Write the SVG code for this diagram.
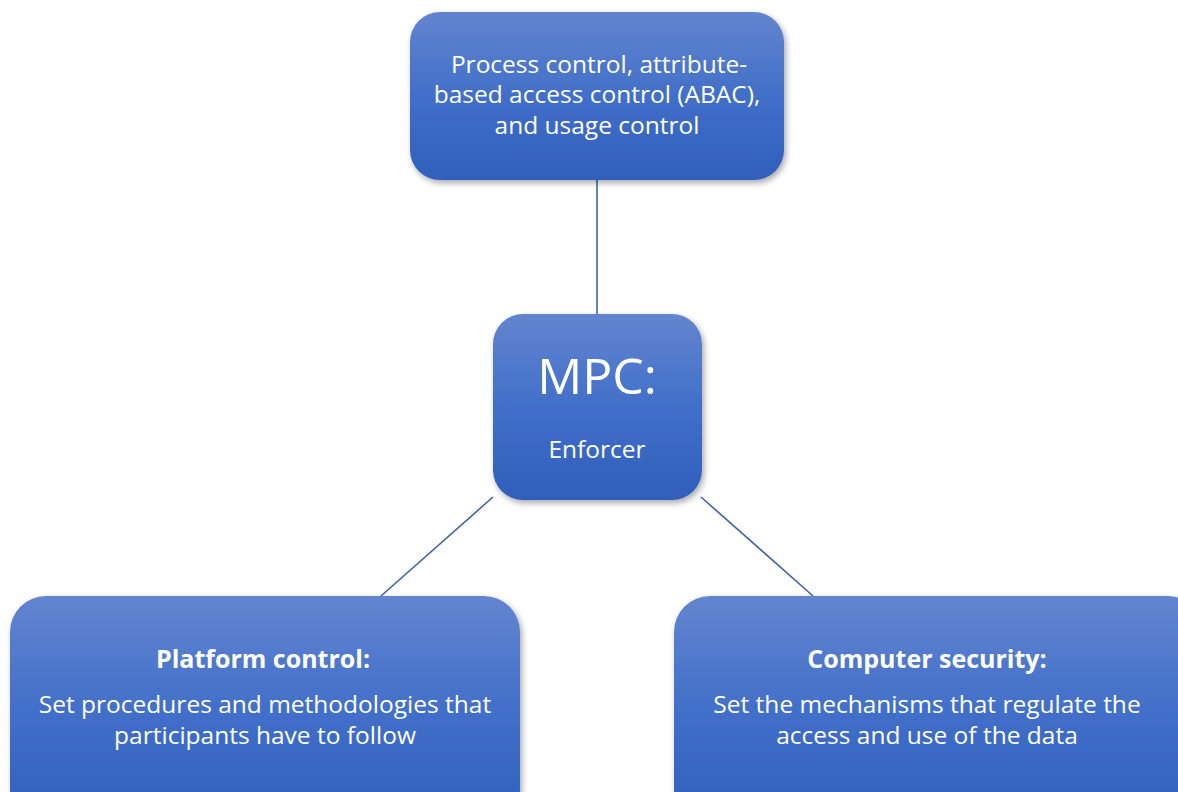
<svg xmlns="http://www.w3.org/2000/svg" width="1178" height="792" viewBox="0 0 1178 792">
  <defs>
    <linearGradient id="boxFill" x1="0" y1="0" x2="0" y2="1">
      <stop offset="0" stop-color="#6385CF"/>
      <stop offset="0.5" stop-color="#416FC9"/>
      <stop offset="1" stop-color="#2F5FBB"/>
    </linearGradient>
    <filter id="shadow" x="-10%" y="-10%" width="125%" height="130%">
      <feGaussianBlur in="SourceAlpha" stdDeviation="3"/>
      <feOffset dx="2" dy="3" result="b"/>
      <feComponentTransfer><feFuncA type="linear" slope="0.35"/></feComponentTransfer>
      <feMerge><feMergeNode/><feMergeNode in="SourceGraphic"/></feMerge>
    </filter>
  </defs>
  <style>
    .box { fill: url(#boxFill); filter: url(#shadow); }
    .t { font-family: "Open Sans", "Noto Sans", sans-serif; fill: #FFFFFF; text-anchor: middle; }
    .body { font-size: 24.5px; }
    .head { font-size: 25px; font-weight: bold; }
    .link { stroke: #3F63A9; stroke-width: 1.6; fill: none; }
  </style>
  <rect width="1178" height="792" fill="#FFFFFF"/>

  <g id="connectors">
    <line class="link" x1="597" y1="180" x2="597" y2="314"/>
    <line class="link" x1="493" y1="497" x2="381" y2="596"/>
    <line class="link" x1="701" y1="497" x2="813" y2="596"/>
  </g>

  <g id="node-process">
    <rect class="box" x="410" y="12" width="374" height="168" rx="30"/>
    <text class="t body" x="599" y="73">Process control, attribute-</text>
    <text class="t body" x="597" y="103">based access control (ABAC),</text>
    <text class="t body" x="597" y="134">and usage control</text>
  </g>

  <g id="node-mpc">
    <rect class="box" x="493" y="314" width="209" height="186" rx="30"/>
    <text class="t" x="597" y="394" font-size="50">MPC:</text>
    <text class="t body" x="597" y="458">Enforcer</text>
  </g>

  <g id="node-platform">
    <rect class="box" x="10" y="596" width="510" height="230" rx="36"/>
    <text class="t head" x="263" y="668">Platform control:</text>
    <text class="t body" x="265" y="713">Set procedures and methodologies that</text>
    <text class="t body" x="265" y="744">participants have to follow</text>
  </g>

  <g id="node-security">
    <rect class="box" x="674" y="596" width="530" height="230" rx="36"/>
    <text class="t head" x="927" y="668">Computer security:</text>
    <text class="t body" x="927" y="713">Set the mechanisms that regulate the</text>
    <text class="t body" x="927" y="744">access and use of the data</text>
  </g>
</svg>
